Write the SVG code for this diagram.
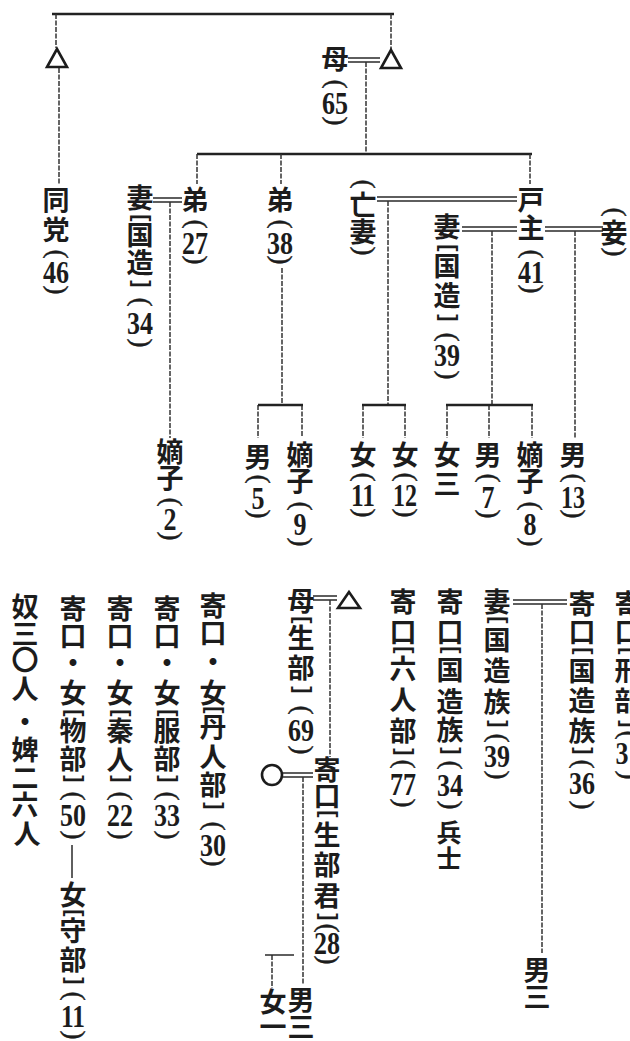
<svg xmlns="http://www.w3.org/2000/svg" width="630" height="1041" viewBox="0 0 630 1041">
<style>
.k{font-family:"Noto Sans CJK JP","Noto Sans CJK SC",sans-serif;font-size:27px;font-weight:700;text-anchor:middle;dominant-baseline:central;fill:#1c1c1c;transform:translate(0px,-2px)}
.d{font-family:"Liberation Serif",serif;font-size:32px;font-weight:700;text-anchor:middle;dominant-baseline:central;fill:#1c1c1c}
.p{font-family:"Liberation Serif",serif;font-size:27px;text-anchor:middle;dominant-baseline:central;fill:#1c1c1c;stroke:#1c1c1c;stroke-width:0.5}
.b{font-family:"Liberation Sans",sans-serif;font-size:22px;font-weight:700;text-anchor:middle;dominant-baseline:central;fill:#1c1c1c}
.ln{stroke:#2a2a2a;stroke-width:1.5;fill:none}
.vl{stroke:#333;stroke-width:1.5;fill:none;stroke-dasharray:5 1.5}
.bar{stroke:#222;stroke-width:2.4;fill:none}
.sym{stroke:#1c1c1c;stroke-width:2.6;fill:none}
</style>
<rect width="630" height="1041" fill="#fff"/>
<g id="connectors">
<path class="bar" d="M52 14H394"/>
<path class="vl" d="M56 14V48M59 68V184M391 14V49"/>
<path class="ln" d="M348 58H380M348 62H380"/>
<path class="vl" d="M366 62V154"/>
<path class="bar" d="M197 154H532"/>
<path class="vl" d="M197 154V184M281 154V184M530 154V184"/>
<path class="ln" d="M153 198H182M153 202H182"/>
<path class="vl" d="M170 202V438"/>
<path class="vl" d="M282 268V405M258 405V438M302 405V436"/>
<path class="bar" d="M258 405H303"/>
<path class="ln" d="M377 197H517M377 201H517"/>
<path class="vl" d="M388 201V405M363 405V438M405 405V438"/>
<path class="bar" d="M362 405H406"/>
<path class="ln" d="M462 227H517M462 231H517"/>
<path class="vl" d="M492 231V405M447 405V438M489 405V438M532 405V438"/>
<path class="bar" d="M446 405H533"/>
<path class="ln" d="M545 227H603M545 231H603"/>
<path class="vl" d="M575 231V438"/>
<path class="ln" d="M313 596H337M313 600H337"/>
<path class="vl" d="M330 600V757"/>
<path class="ln" d="M283 773H313M283 777H313"/>
<path class="vl" d="M303 777V985M272 955V988"/>
<path class="ln" d="M265 955H294"/>
<path class="ln" d="M72 845V878"/>
<path class="ln" d="M513 600H567M513 604H567"/>
<path class="vl" d="M542 604V953"/>
</g>
<g id="n_father_left"><polygon class="sym" points="57,49 47,67 67,67"/></g>
<g id="n_doutou">
<text class="k" x="56" y="200">同</text><text class="k" x="56" y="230">党</text>
<text class="p" transform="translate(58 254) rotate(90)">(</text>
<text class="d" x="56" y="272" textLength="26" lengthAdjust="spacingAndGlyphs">46</text>
<text class="p" transform="translate(58 290) rotate(90)">)</text>
</g>
<g id="n_father"><polygon class="sym" points="391,50 381,68 401,68"/></g>
<g id="n_mother">
<text class="k" x="335" y="59">母</text>
<text class="p" transform="translate(337 84) rotate(90)">(</text>
<text class="d" x="335" y="103" textLength="26" lengthAdjust="spacingAndGlyphs">65</text>
<text class="p" transform="translate(337 121) rotate(90)">)</text>
</g>
<g id="n_brother27">
<text class="k" x="195" y="200">弟</text>
<text class="p" transform="translate(197 224) rotate(90)">(</text>
<text class="d" x="195" y="243" textLength="26" lengthAdjust="spacingAndGlyphs">27</text>
<text class="p" transform="translate(197 260) rotate(90)">)</text>
</g>
<g id="n_wife34">
<text class="k" x="140" y="198">妻</text>
<text class="b" transform="translate(142 218) rotate(90)">[</text>
<text class="k" x="140" y="235">国</text><text class="k" x="140" y="263">造</text>
<text class="b" transform="translate(142 284) rotate(90)">]</text>
<text class="p" transform="translate(142 302) rotate(90)">(</text>
<text class="d" x="140" y="323" textLength="26" lengthAdjust="spacingAndGlyphs">34</text>
<text class="p" transform="translate(142 343) rotate(90)">)</text>
</g>
<g id="n_son2">
<text class="k" x="170" y="452">嫡</text><text class="k" x="170" y="478">子</text>
<text class="p" transform="translate(172 502) rotate(90)">(</text>
<text class="d" x="170" y="519" textLength="13" lengthAdjust="spacingAndGlyphs">2</text>
<text class="p" transform="translate(172 536) rotate(90)">)</text>
</g>
<g id="n_brother38">
<text class="k" x="280" y="200">弟</text>
<text class="p" transform="translate(282 224) rotate(90)">(</text>
<text class="d" x="280" y="243" textLength="26" lengthAdjust="spacingAndGlyphs">38</text>
<text class="p" transform="translate(282 260) rotate(90)">)</text>
</g>
<g id="n_son5">
<text class="k" x="258" y="457">男</text>
<text class="p" transform="translate(260 479) rotate(90)">(</text>
<text class="d" x="258" y="498" textLength="13" lengthAdjust="spacingAndGlyphs">5</text>
<text class="p" transform="translate(260 514) rotate(90)">)</text>
</g>
<g id="n_son9">
<text class="k" x="300" y="455">嫡</text><text class="k" x="300" y="481">子</text>
<text class="p" transform="translate(302 506) rotate(90)">(</text>
<text class="d" x="300" y="524" textLength="13" lengthAdjust="spacingAndGlyphs">9</text>
<text class="p" transform="translate(302 542) rotate(90)">)</text>
</g>
<g id="n_latewife">
<text class="p" transform="translate(365 184) rotate(90)">(</text>
<text class="k" x="363" y="205">亡</text><text class="k" x="363" y="232">妻</text>
<text class="p" transform="translate(365 251) rotate(90)">)</text>
</g>
<g id="n_dau11">
<text class="k" x="363" y="455">女</text>
<text class="p" transform="translate(365 477) rotate(90)">(</text>
<text class="d" x="363" y="495" textLength="24" lengthAdjust="spacingAndGlyphs">11</text>
<text class="p" transform="translate(365 513) rotate(90)">)</text>
</g>
<g id="n_dau12">
<text class="k" x="405" y="455">女</text>
<text class="p" transform="translate(407 477) rotate(90)">(</text>
<text class="d" x="405" y="495" textLength="24" lengthAdjust="spacingAndGlyphs">12</text>
<text class="p" transform="translate(407 513) rotate(90)">)</text>
</g>
<g id="n_head">
<text class="k" x="531" y="200">戸</text><text class="k" x="531" y="228">主</text>
<text class="p" transform="translate(533 254) rotate(90)">(</text>
<text class="d" x="531" y="272" textLength="26" lengthAdjust="spacingAndGlyphs">41</text>
<text class="p" transform="translate(533 289) rotate(90)">)</text>
</g>
<g id="n_wife39">
<text class="k" x="447" y="227">妻</text>
<text class="b" transform="translate(449 248) rotate(90)">[</text>
<text class="k" x="447" y="266">国</text><text class="k" x="447" y="296">造</text>
<text class="b" transform="translate(449 318) rotate(90)">]</text>
<text class="p" transform="translate(449 337) rotate(90)">(</text>
<text class="d" x="447" y="355" textLength="26" lengthAdjust="spacingAndGlyphs">39</text>
<text class="p" transform="translate(449 375) rotate(90)">)</text>
</g>
<g id="n_dau3">
<text class="k" x="447" y="455">女</text><text class="k" x="447" y="484">三</text>
</g>
<g id="n_son7">
<text class="k" x="488" y="455">男</text>
<text class="p" transform="translate(490 478) rotate(90)">(</text>
<text class="d" x="488" y="497" textLength="13" lengthAdjust="spacingAndGlyphs">7</text>
<text class="p" transform="translate(490 514) rotate(90)">)</text>
</g>
<g id="n_son8">
<text class="k" x="530" y="455">嫡</text><text class="k" x="530" y="481">子</text>
<text class="p" transform="translate(532 506) rotate(90)">(</text>
<text class="d" x="530" y="524" textLength="13" lengthAdjust="spacingAndGlyphs">8</text>
<text class="p" transform="translate(532 542) rotate(90)">)</text>
</g>
<g id="n_concubine">
<text class="p" transform="translate(616 212) rotate(90)">(</text>
<text class="k" x="614" y="233">妾</text>
<text class="p" transform="translate(616 252) rotate(90)">)</text>
</g>
<g id="n_son13">
<text class="k" x="573" y="455">男</text>
<text class="p" transform="translate(575 478) rotate(90)">(</text>
<text class="d" x="573" y="497" textLength="24" lengthAdjust="spacingAndGlyphs">13</text>
<text class="p" transform="translate(575 514) rotate(90)">)</text>
</g>
<g id="n_slaves">
<text class="k" x="25" y="607">奴</text><text class="k" x="25" y="634">三</text><text class="k" x="25" y="660">〇</text><text class="k" x="25" y="689">人</text><text class="k" x="25" y="722">・</text><text class="k" x="25" y="750">婢</text><text class="k" x="25" y="778">二</text><text class="k" x="25" y="805">六</text><text class="k" x="27" y="834">人</text>
</g>
<g id="n_mononobe">
<text class="k" x="73" y="609">寄</text><text class="k" x="73" y="636">口</text><text class="k" x="73" y="663">・</text><text class="k" x="73" y="693">女</text>
<text class="b" transform="translate(75 713) rotate(90)">[</text>
<text class="k" x="73" y="731">物</text><text class="k" x="73" y="759">部</text>
<text class="b" transform="translate(75 779) rotate(90)">]</text>
<text class="p" transform="translate(75 796) rotate(90)">(</text>
<text class="d" x="73" y="815" textLength="26" lengthAdjust="spacingAndGlyphs">50</text>
<text class="p" transform="translate(75 835) rotate(90)">)</text>
</g>
<g id="n_moribe">
<text class="k" x="73" y="895">女</text>
<text class="b" transform="translate(75 913) rotate(90)">[</text>
<text class="k" x="73" y="931">守</text><text class="k" x="73" y="960">部</text>
<text class="b" transform="translate(75 981) rotate(90)">]</text>
<text class="p" transform="translate(75 996) rotate(90)">(</text>
<text class="d" x="73" y="1016" textLength="24" lengthAdjust="spacingAndGlyphs">11</text>
<text class="p" transform="translate(75 1035) rotate(90)">)</text>
</g>
<g id="n_hata">
<text class="k" x="120" y="609">寄</text><text class="k" x="120" y="636">口</text><text class="k" x="120" y="663">・</text><text class="k" x="120" y="693">女</text>
<text class="b" transform="translate(122 713) rotate(90)">[</text>
<text class="k" x="120" y="731">秦</text><text class="k" x="120" y="760">人</text>
<text class="b" transform="translate(122 779) rotate(90)">]</text>
<text class="p" transform="translate(122 796) rotate(90)">(</text>
<text class="d" x="120" y="815" textLength="26" lengthAdjust="spacingAndGlyphs">22</text>
<text class="p" transform="translate(122 835) rotate(90)">)</text>
</g>
<g id="n_hattori">
<text class="k" x="167" y="609">寄</text><text class="k" x="167" y="636">口</text><text class="k" x="167" y="663">・</text><text class="k" x="167" y="693">女</text>
<text class="b" transform="translate(169 713) rotate(90)">[</text>
<text class="k" x="167" y="731">服</text><text class="k" x="167" y="759">部</text>
<text class="b" transform="translate(169 779) rotate(90)">]</text>
<text class="p" transform="translate(169 796) rotate(90)">(</text>
<text class="d" x="167" y="815" textLength="26" lengthAdjust="spacingAndGlyphs">33</text>
<text class="p" transform="translate(169 835) rotate(90)">)</text>
</g>
<g id="n_nihitobe">
<text class="k" x="213" y="606">寄</text><text class="k" x="213" y="633">口</text><text class="k" x="213" y="662">・</text><text class="k" x="213" y="693">女</text>
<text class="b" transform="translate(215 710) rotate(90)">[</text>
<text class="k" x="213" y="727">丹</text><text class="k" x="213" y="757">人</text><text class="k" x="213" y="785">部</text>
<text class="b" transform="translate(215 806) rotate(90)">]</text>
<text class="p" transform="translate(215 826) rotate(90)">(</text>
<text class="d" x="213" y="845" textLength="26" lengthAdjust="spacingAndGlyphs">30</text>
<text class="p" transform="translate(215 862) rotate(90)">)</text>
</g>
<g id="n_mibu_mother">
<text class="k" x="301" y="601">母</text>
<text class="b" transform="translate(303 620) rotate(90)">[</text>
<text class="k" x="301" y="638">生</text><text class="k" x="301" y="668">部</text>
<text class="b" transform="translate(303 690) rotate(90)">]</text>
<text class="p" transform="translate(303 710) rotate(90)">(</text>
<text class="d" x="301" y="730" textLength="26" lengthAdjust="spacingAndGlyphs">69</text>
<text class="p" transform="translate(303 750) rotate(90)">)</text>
</g>
<g id="n_mibu_father"><polygon class="sym" points="349,592 338,608 360,608"/></g>
<g id="n_mibu_wife"><circle class="sym" cx="272" cy="775" r="10" stroke-width="2.2"/></g>
<g id="n_mibukimi">
<text class="k" x="327" y="770">寄</text><text class="k" x="327" y="796">口</text>
<text class="b" transform="translate(329 814) rotate(90)">[</text>
<text class="k" x="327" y="835">生</text><text class="k" x="327" y="865">部</text><text class="k" x="327" y="896">君</text>
<text class="b" transform="translate(329 917) rotate(90)">]</text>
<text class="p" transform="translate(329 928) rotate(90)">(</text>
<text class="d" x="327" y="943" textLength="26" lengthAdjust="spacingAndGlyphs">28</text>
<text class="p" transform="translate(329 960) rotate(90)">)</text>
</g>
<g id="n_mibu_dau1"><text class="k" x="273" y="1002">女</text><text class="k" x="273" y="1027">一</text></g>
<g id="n_mibu_son3"><text class="k" x="301" y="1000">男</text><text class="k" x="301" y="1027">三</text></g>
<g id="n_mutobe">
<text class="k" x="403" y="602">寄</text><text class="k" x="403" y="632">口</text>
<text class="b" transform="translate(405 650) rotate(90)">[</text>
<text class="k" x="403" y="669">六</text><text class="k" x="403" y="700">人</text><text class="k" x="403" y="731">部</text>
<text class="b" transform="translate(405 752) rotate(90)">]</text>
<text class="p" transform="translate(405 764) rotate(90)">(</text>
<text class="d" x="403" y="784" textLength="26" lengthAdjust="spacingAndGlyphs">77</text>
<text class="p" transform="translate(405 803) rotate(90)">)</text>
</g>
<g id="n_soldier">
<text class="k" x="450" y="602">寄</text><text class="k" x="450" y="632">口</text>
<text class="b" transform="translate(452 650) rotate(90)">[</text>
<text class="k" x="450" y="670">国</text><text class="k" x="450" y="702">造</text><text class="k" x="450" y="730">族</text>
<text class="b" transform="translate(452 751) rotate(90)">]</text>
<text class="p" transform="translate(452 765) rotate(90)">(</text>
<text class="d" x="450" y="785" textLength="26" lengthAdjust="spacingAndGlyphs">34</text>
<text class="p" transform="translate(452 805) rotate(90)">)</text>
<text class="k" x="449" y="833" style="font-size:25px">兵</text><text class="k" x="449" y="859" style="font-size:25px">士</text>
</g>
<g id="n_wife_kz39">
<text class="k" x="497" y="602">妻</text>
<text class="b" transform="translate(499 620) rotate(90)">[</text>
<text class="k" x="497" y="640">国</text><text class="k" x="497" y="671">造</text><text class="k" x="497" y="702">族</text>
<text class="b" transform="translate(499 724) rotate(90)">]</text>
<text class="p" transform="translate(499 738) rotate(90)">(</text>
<text class="d" x="497" y="756" textLength="26" lengthAdjust="spacingAndGlyphs">39</text>
<text class="p" transform="translate(499 775) rotate(90)">)</text>
</g>
<g id="n_son3b"><text class="k" x="537" y="970">男</text><text class="k" x="537" y="997">三</text></g>
<g id="n_kz36">
<text class="k" x="582" y="604">寄</text><text class="k" x="582" y="632">口</text>
<text class="b" transform="translate(584 651) rotate(90)">[</text>
<text class="k" x="582" y="671">国</text><text class="k" x="582" y="701">造</text><text class="k" x="582" y="731">族</text>
<text class="b" transform="translate(584 751) rotate(90)">]</text>
<text class="p" transform="translate(584 764) rotate(90)">(</text>
<text class="d" x="582" y="783" textLength="26" lengthAdjust="spacingAndGlyphs">36</text>
<text class="p" transform="translate(584 805) rotate(90)">)</text>
</g>
<g id="n_osakabe">
<text class="k" x="628" y="604">寄</text><text class="k" x="628" y="632">口</text>
<text class="b" transform="translate(630 651) rotate(90)">[</text>
<text class="k" x="628" y="671">刑</text><text class="k" x="628" y="701">部</text>
<text class="b" transform="translate(630 724) rotate(90)">]</text>
<text class="p" transform="translate(630 735) rotate(90)">(</text>
<text class="d" x="622" y="753" textLength="13" lengthAdjust="spacingAndGlyphs">3</text>
<text class="p" transform="translate(630 775) rotate(90)">)</text>
</g>
</svg>
